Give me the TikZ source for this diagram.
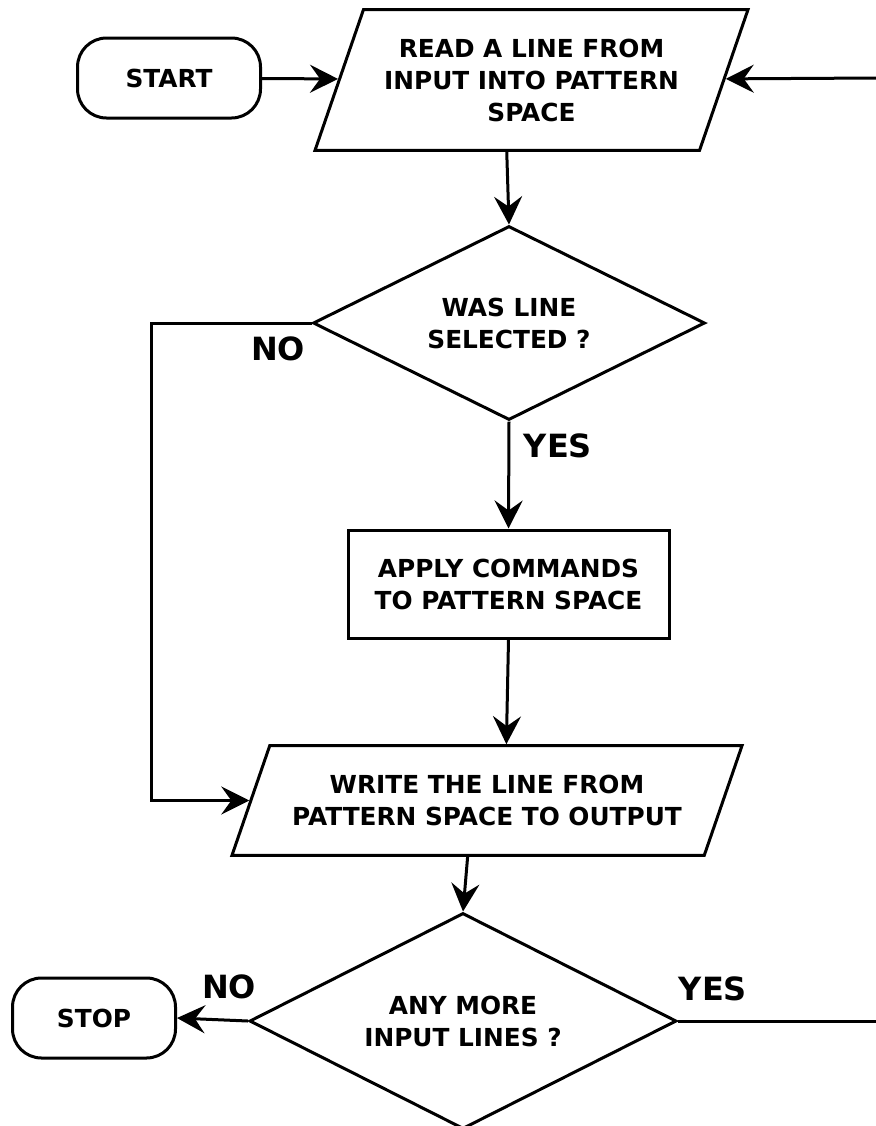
\documentclass[tikz,border=0pt]{standalone}
\usepackage{fontspec}
\setmainfont{DejaVu Sans}
\usetikzlibrary{shapes.geometric,arrows.meta}
\begin{document}
\begin{tikzpicture}[x=0.5pt,y=-0.5pt,
  every node/.style={font=\bfseries\fontsize{12.4}{16}\selectfont, align=center},
  term/.style={draw, line width=1.5pt, rounded corners=14.5pt, minimum height=40pt, inner sep=0pt},
  io/.style={draw, line width=1.5pt, trapezium, trapezium left angle=71, trapezium right angle=109, trapezium stretches body, inner xsep=0pt},
  decide/.style={draw, line width=1.5pt, diamond, aspect=2, inner sep=0pt},
  proc/.style={draw, line width=1.5pt, minimum width=160.5pt, minimum height=54pt, inner sep=0pt},
  answer/.style={font=\bfseries\fontsize{16}{19}\selectfont},
  flow/.style={line width=1.5pt, -{Stealth[length=14pt,width=14pt,inset=5pt]}}]
\useasboundingbox (0,0) rectangle (876,1126);

\node[term, minimum width=91.5pt] (start) at (169,78) {START};
\node[io, inner ysep=14.5pt, minimum width=216.5pt] (read) at (531.5,80) {READ A LINE FROM\\INPUT INTO PATTERN\\SPACE};
\node[decide, minimum width=196pt, minimum height=97pt] (sel) at (509,323) {WAS LINE\\SELECTED ?};
\node[proc] (apply) at (508.5,584) {APPLY COMMANDS\\TO PATTERN SPACE};
\node[io, inner ysep=14.7pt, minimum width=255pt] (write) at (487,800.5) {WRITE THE LINE FROM\\PATTERN SPACE TO OUTPUT};
\node[decide, minimum width=213.5pt, minimum height=108pt] (more) at (463,1021) {ANY MORE\\INPUT LINES ?};
\node[term, minimum width=81.5pt] (stop) at (94,1018) {STOP};

\node[answer] (no1) at (278,349) {NO};
\node[answer] (yes1) at (558,446) {YES};
\node[answer] (no2) at (229,987) {NO};
\node[answer] (yes2) at (713,989) {YES};

\coordinate (back) at (876,78);
\coordinate (loop) at (876,1021);
\coordinate (skip) at (151,323);

\path[draw,flow] (start) -- (read);
\path[draw,flow] (back) -- (read);
\path[draw,flow] (read.bottom side) -- (sel.north);
\path[draw,flow] (sel.south) -- (apply.north);
\path[draw,flow] (apply.south) -- (write.top side);
\path[draw,flow] (write.bottom side) -- (more.north);
\path[draw,flow] (sel.west) -- (skip) |- (write);
\path[draw,flow] (more.west) -- (stop.east);
\path[draw,line width=1.5pt] (more.east) -- (loop);
\end{tikzpicture}
\end{document}
